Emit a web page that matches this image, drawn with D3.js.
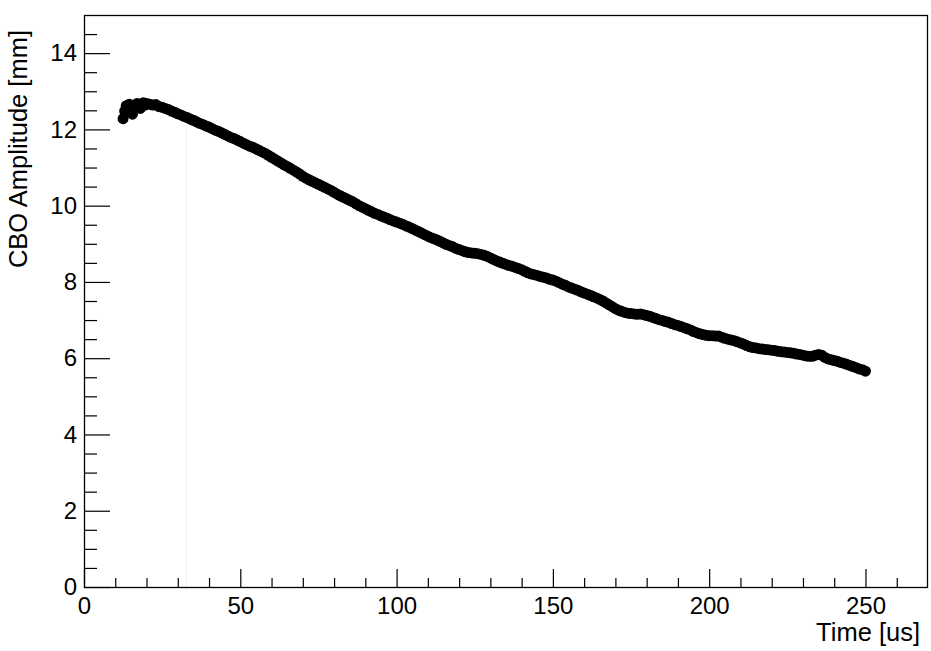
<!DOCTYPE html>
<html>
<head>
<meta charset="utf-8">
<script src="https://cdn.jsdelivr.net/npm/d3@7"></script>
<style>
  html, body { margin: 0; padding: 0; background: #fff; }
  svg { display: block; }
  text { font-family: "Liberation Sans", Arial, Helvetica, sans-serif; fill: #000; }
</style>
</head>
<body>
<svg id="chart" width="931" height="651"></svg>
<script>
// ---- data ----
const timeUs = [
  12.5,13,13.5,14,14.5,15,15.5,16,16.5,17,17.5,18,18.5,19,19.5,20,
  21,22,23,24,25,26,27,28,29,30,31,32,33,34,35,36,37,38,39,40,
  41,42,43,44,45,46,47,48,49,50,51,52,53,54,55,56,57,58,59,60,
  61,62,63,64,65,66,67,68,69,70,71,72,73,74,75,76,77,78,79,80,
  81,82,83,84,85,86,87,88,89,90,91,92,93,94,95,96,97,98,99,100,
  101,102,103,104,105,106,107,108,109,110,111,112,113,114,115,116,117,118,119,120,
  121,122,123,124,125,126,127,128,129,130,131,132,133,134,135,136,137,138,139,140,
  141,142,143,144,145,146,147,148,149,150,151,152,153,154,155,156,157,158,159,160,
  161,162,163,164,165,166,167,168,169,170,171,172,173,174,175,176,177,178,179,180,
  181,182,183,184,185,186,187,188,189,190,191,192,193,194,195,196,197,198,199,200,
  201,202,203,204,205,206,207,208,209,210,211,212,213,214,215,216,217,218,219,220,
  221,222,223,224,225,226,227,228,229,230,231,232,233,234,235,236,237,238,239,240,
  241,242,243,244,245,246,247,248,249,250
];
const amplitudeMm = [
  12.28,12.48,12.62,12.55,12.66,12.45,12.40,12.55,12.64,12.68,12.62,12.55,12.66,12.70,12.64,12.68,
  12.66,12.64,12.65,12.60,12.58,12.55,12.52,12.48,12.45,12.41,12.38,12.34,12.31,12.27,12.24,12.20,12.16,12.13,12.09,12.06,
  12.02,11.98,11.95,11.91,11.87,11.83,11.79,11.76,11.72,11.68,11.64,11.60,11.56,11.53,11.49,11.45,11.41,11.37,11.32,11.27,
  11.22,11.17,11.12,11.07,11.03,10.98,10.93,10.88,10.83,10.77,10.72,10.68,10.64,10.60,10.56,10.52,10.48,10.44,10.40,10.35,
  10.30,10.26,10.22,10.18,10.14,10.10,10.05,10.00,9.96,9.92,9.88,9.84,9.80,9.77,9.73,9.70,9.67,9.63,9.60,9.57,
  9.54,9.51,9.47,9.44,9.40,9.36,9.32,9.28,9.24,9.20,9.16,9.13,9.10,9.06,9.02,8.98,8.95,8.92,8.88,8.85,
  8.82,8.79,8.77,8.76,8.75,8.74,8.72,8.70,8.67,8.63,8.59,8.55,8.52,8.49,8.46,8.43,8.41,8.38,8.35,8.32,
  8.28,8.24,8.21,8.19,8.17,8.14,8.12,8.10,8.07,8.05,8.02,7.98,7.94,7.91,7.87,7.84,7.81,7.78,7.74,7.71,
  7.68,7.65,7.61,7.58,7.54,7.50,7.45,7.40,7.35,7.30,7.26,7.23,7.20,7.18,7.17,7.16,7.15,7.16,7.14,7.12,
  7.10,7.07,7.04,7.01,6.99,6.96,6.94,6.91,6.88,6.86,6.83,6.80,6.77,6.74,6.70,6.67,6.64,6.62,6.60,6.59,
  6.59,6.58,6.58,6.55,6.52,6.50,6.48,6.46,6.43,6.40,6.37,6.33,6.30,6.28,6.27,6.25,6.24,6.23,6.22,6.21,
  6.20,6.18,6.17,6.16,6.15,6.14,6.13,6.11,6.10,6.08,6.06,6.05,6.05,6.08,6.10,6.08,6.02,5.98,5.96,5.94,
  5.92,5.89,5.87,5.84,5.81,5.78,5.75,5.72,5.70,5.66
];
const xMajorTicks = [0, 50, 100, 150, 200, 250];
const xMinorTicks = [10, 20, 30, 40, 60, 70, 80, 90, 110, 120, 130, 140, 160, 170, 180, 190, 210, 220, 230, 240, 260];
const yMajorTicks = [0, 2, 4, 6, 8, 10, 12, 14];
const yMinorTicks = [0.5, 1, 1.5, 2.5, 3, 3.5, 4.5, 5, 5.5, 6.5, 7, 7.5, 8.5, 9, 9.5, 10.5, 11, 11.5, 12.5, 13, 13.5, 14.5];
const xTitle = "Time [us]";
const yTitle = "CBO Amplitude [mm]";
const xDomain = [0, 270];
const yDomain = [0, 15];
const faintLineTime = [32.8];

// ---- drawing ----
const W = 931, H = 651;
const margin = { left: 84, right: 3, top: 15, bottom: 64 };
const svg = d3.select("#chart");

const x = d3.scaleLinear().domain(xDomain).range([margin.left, W - margin.right]);
const y = d3.scaleLinear().domain(yDomain).range([H - margin.bottom, margin.top]);

const data = timeUs.map((t, i) => ({ t, v: amplitudeMm[i] }));

// faint vertical artefact line
svg.append("g").selectAll("line").data(faintLineTime).join("line")
  .attr("x1", d => x(d)).attr("x2", d => x(d))
  .attr("y1", y(12.3)).attr("y2", y(0) + 3)
  .attr("stroke", "#f2f2f2").attr("stroke-width", 1);

// markers
svg.append("g").selectAll("circle").data(data).join("circle")
  .attr("cx", d => x(d.t))
  .attr("cy", d => y(d.v))
  .attr("r", 5.5)
  .attr("fill", "#000");

// axes
const fontSize = 24;
const titleSize = 25.5;
const xMajor = d3.axisBottom(x).tickValues(xMajorTicks).tickSize(-18).tickPadding(10).tickFormat(d3.format("d"));
const xMinor = d3.axisBottom(x).tickValues(xMinorTicks).tickSize(-9).tickFormat("");
const yMajor = d3.axisLeft(y).tickValues(yMajorTicks).tickSize(-26).tickPadding(7).tickFormat(d3.format("d"));
const yMinor = d3.axisLeft(y).tickValues(yMinorTicks).tickSize(-13).tickFormat("");

function style(g) {
  g.selectAll("line").attr("stroke", "#000").attr("stroke-width", 1.2);
  g.selectAll("text").attr("font-size", fontSize).attr("fill", "#000")
    .attr("font-family", '"Liberation Sans", Arial, Helvetica, sans-serif');
  g.select(".domain").remove();
}

svg.append("g").attr("transform", `translate(0,${y(0)})`).call(xMajor).call(style);
svg.append("g").attr("transform", `translate(0,${y(0)})`).call(xMinor).call(style);
svg.append("g").attr("transform", `translate(${x(0)},0)`).call(yMajor).call(style);
svg.append("g").attr("transform", `translate(${x(0)},0)`).call(yMinor).call(style);

// frame
svg.append("rect")
  .attr("x", x(xDomain[0]) + 0.5).attr("y", y(yDomain[1]) + 0.5)
  .attr("width", x(xDomain[1]) - x(xDomain[0]) - 1)
  .attr("height", y(yDomain[0]) - y(yDomain[1]))
  .attr("fill", "none").attr("stroke", "#000").attr("stroke-width", 1.3);

// titles
svg.append("text")
  .attr("x", 920).attr("y", 641)
  .attr("text-anchor", "end")
  .attr("font-size", titleSize)
  .text(xTitle);

svg.append("text")
  .attr("transform", "translate(27,30) rotate(-90)")
  .attr("text-anchor", "end")
  .attr("font-size", titleSize)
  .text(yTitle);
</script>
</body>
</html>
